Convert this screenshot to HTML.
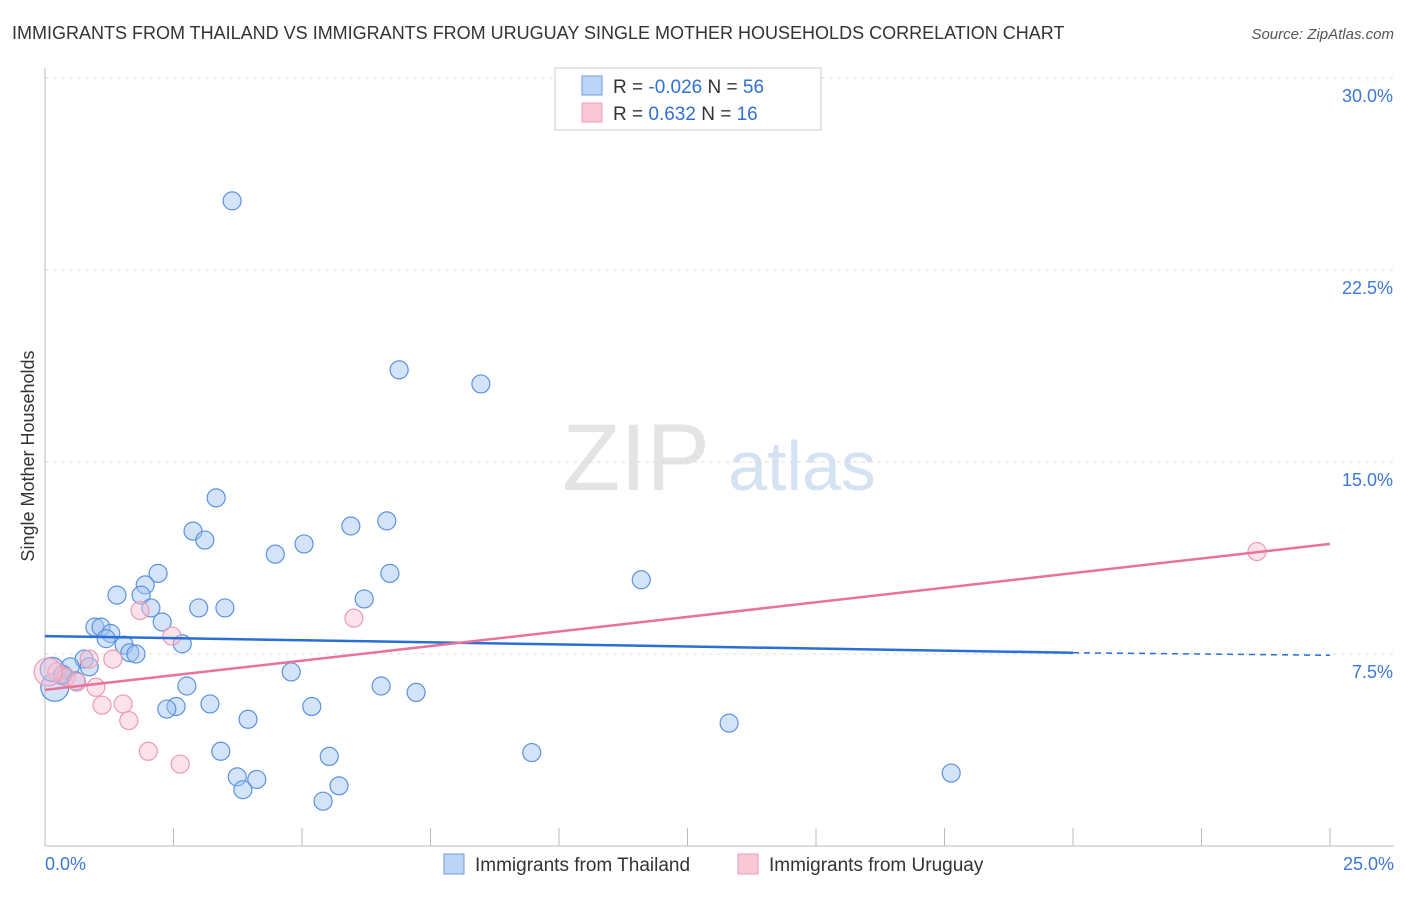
<!DOCTYPE html>
<html><head><meta charset="utf-8"><style>
body{margin:0;background:#fff;font-family:"Liberation Sans",sans-serif}
svg text{font-family:"Liberation Sans",sans-serif}
</style></head><body>
<svg id="chart" width="1406" height="892" xmlns="http://www.w3.org/2000/svg">
<text x="12" y="39" font-size="18" fill="#333">IMMIGRANTS FROM THAILAND VS IMMIGRANTS FROM URUGUAY SINGLE MOTHER HOUSEHOLDS CORRELATION CHART</text>
<text x="1394" y="39" font-size="15" fill="#555" text-anchor="end" font-style="italic">Source: ZipAtlas.com</text>
<text x="0" y="0" transform="translate(34,456) rotate(-90)" font-size="18" fill="#333" text-anchor="middle">Single Mother Households</text>
<g><text x="636" y="490" font-size="95" fill="#e4e4e4" text-anchor="middle" font-family="Liberation Serif">ZIP</text><text x="802" y="490" font-size="70" fill="#d4e2f4" text-anchor="middle">atlas</text></g>
<g id="grid"></g><g id="axes"></g><g id="marks"></g>
<g>
<rect x="555" y="68" width="266" height="62" fill="#fff" stroke="#ccc"/>
<rect x="582" y="76" width="20" height="19" fill="#bcd4f5" stroke="#6a9ee6"/>
<text x="613" y="93" font-size="19" fill="#333">R = <tspan fill="#2f6fd6">-0.026</tspan>   N = <tspan fill="#2f6fd6">56</tspan></text>
<rect x="582" y="103" width="20" height="19" fill="#f9c9d7" stroke="#ec9ab3"/>
<text x="613" y="120" font-size="19" fill="#333">R =   <tspan fill="#2f6fd6">0.632</tspan>   N =  <tspan fill="#2f6fd6">16</tspan></text>
</g>
<g>
<rect x="444" y="854" width="20" height="20" fill="#bcd4f5" stroke="#6a9ee6"/>
<text x="475" y="871" font-size="19" fill="#333">Immigrants from Thailand</text>
<rect x="738" y="854" width="20" height="20" fill="#f9c9d7" stroke="#ec9ab3"/>
<text x="769" y="871" font-size="19" fill="#333">Immigrants from Uruguay</text>
</g>
</svg>
<script>
const yTicks=[7.5,15.0,22.5,30.0];
const yTickLabels=["7.5%","15.0%","22.5%","30.0%"];
const thaiX=[3.64,6.89,8.48,3.33,2.88,3.11,5.95,6.65,5.04,4.48,2.20,1.95,1.40,1.87,6.71,11.60,2.06,2.99,3.50,6.21,0.97,1.09,1.28,1.19,2.28,2.67,1.54,1.65,1.77,0.76,0.49,0.86,0.33,0.60,0.19,0.14,4.79,2.76,6.54,7.22,3.21,2.55,2.37,5.19,3.95,13.31,3.42,5.53,9.47,3.74,4.12,3.85,5.72,5.41,17.63,0.35];
const thaiY=[25.2,18.6,18.05,13.6,12.3,11.95,12.5,12.7,11.8,11.4,10.65,10.2,9.8,9.8,10.65,10.4,9.3,9.3,9.3,9.65,8.55,8.55,8.3,8.1,8.75,7.9,7.85,7.55,7.5,7.3,7.0,7.0,6.65,6.45,6.2,6.9,6.8,6.25,6.25,6.0,5.55,5.45,5.35,5.45,4.95,4.8,3.7,3.5,3.65,2.7,2.6,2.2,2.35,1.75,2.85,6.7];
const thaiR=[9,9,9,9,9,9,9,9,9,9,9,9,9,9,9,9,9,9,9,9,9,9,9,9,9,9,9,9,9,9,9,9,9,9,14,12,9,9,9,9,9,9,9,9,9,9,9,9,9,9,9,9,9,9,9,9];
const uruX=[1.85,2.47,6.01,23.58,1.32,0.86,0.23,0.41,0.99,1.11,1.52,1.63,2.01,2.63,0.06,0.62];
const uruY=[9.2,8.2,8.9,11.5,7.3,7.3,6.8,6.6,6.2,5.5,5.55,4.9,3.7,3.2,6.8,6.4];
const uruR=[9,9,9,9,9,9,9,9,9,9,9,9,9,9,14,9];
const thaiTrend=[0,8.2,20,7.55,25,7.45];
const uruTrend=[0,6.1,25,11.8];
const X=v=>45+v/25*1285, Y=v=>846-v/7.5*192;
const NS="http://www.w3.org/2000/svg";
function mk(p,t,a){const e=document.createElementNS(NS,t);for(const k in a)e.setAttribute(k,a[k]);document.getElementById(p).appendChild(e);return e;}
yTicks.forEach((t,i)=>{
 const g=mk('grid','line',{x1:45,x2:1394,y1:Y(t),y2:Y(t),stroke:'#ddd','stroke-dasharray':'4,4'});
 
 
 const l=mk('axes','text',{x:1393,y:Y(t)+24,'font-size':18,fill:'#3b78d8','text-anchor':'end'});l.textContent=yTickLabels[i];
 
 
});
const ax=mk('axes','line',{x1:45,x2:1394,y1:846,y2:846,stroke:'#bbb'});


const ay=mk('axes','line',{x1:45,x2:45,y1:68,y2:846,stroke:'#bbb'});


for(let i=0;i<=10;i++){const tk=mk('axes','line',{x1:X(i*2.5),x2:X(i*2.5),y1:828,y2:846,stroke:'#bbb'});
 
 }
const x0=mk('axes','text',{x:45,y:870,'font-size':18,fill:'#3b78d8'});x0.textContent='0.0%';


const x1=mk('axes','text',{x:1394,y:870,'font-size':18,fill:'#3b78d8','text-anchor':'end'});x1.textContent='25.0%';


thaiX.forEach((v,i)=>{const c=mk('marks','circle',{cx:X(v),cy:Y(thaiY[i]),r:thaiR[i],fill:'rgba(160,195,240,0.45)',stroke:'#5b92e0','stroke-width':1.2});
 
 });
uruX.forEach((v,i)=>{const c=mk('marks','circle',{cx:X(v),cy:Y(uruY[i]),r:uruR[i],fill:'rgba(248,190,208,0.45)',stroke:'#ec9ab3','stroke-width':1.2});
 
 });
const t1=mk('marks','line',{x1:X(thaiTrend[0]),y1:Y(thaiTrend[1]),x2:X(thaiTrend[2]),y2:Y(thaiTrend[3]),stroke:'#2a6fd6','stroke-width':2.5});


const t2=mk('marks','line',{x1:X(thaiTrend[2]),y1:Y(thaiTrend[3]),x2:X(thaiTrend[4]),y2:Y(thaiTrend[5]),stroke:'#2a6fd6','stroke-width':1.5,'stroke-dasharray':'6,5'});


const t3=mk('marks','line',{x1:X(uruTrend[0]),y1:Y(uruTrend[1]),x2:X(uruTrend[2]),y2:Y(uruTrend[3]),stroke:'#e8739a','stroke-width':2.5});


</script>
</body></html>
